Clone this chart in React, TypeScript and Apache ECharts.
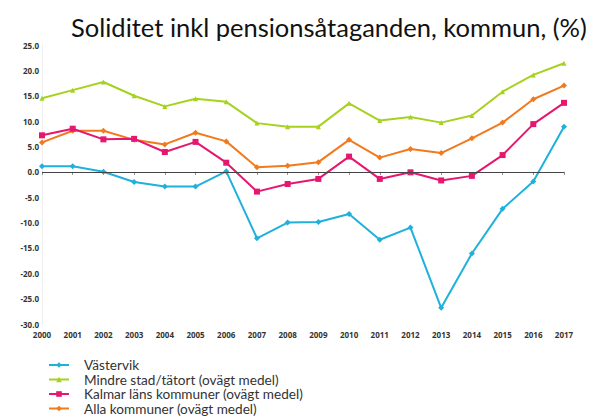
import React, { useEffect, useRef } from "react";
import * as echarts from "echarts";

const years = ["2000","2001","2002","2003","2004","2005","2006","2007","2008","2009","2010","2011","2012","2013","2014","2015","2016","2017"];
const vastervik = [1.1, 1.1, 0.0, -2.0, -2.9, -2.9, 0.1, -13.1, -10.0, -9.9, -8.3, -13.4, -11.0, -26.8, -16.1, -7.3, -1.9, 8.9];
const mindreStad = [14.5, 16.1, 17.7, 15.0, 12.9, 14.4, 13.8, 9.6, 8.9, 8.9, 13.5, 10.1, 10.8, 9.7, 11.1, 15.8, 19.1, 21.4];
const kalmar = [7.2, 8.5, 6.4, 6.5, 3.9, 5.9, 1.8, -3.9, -2.4, -1.4, 3.0, -1.4, -0.1, -1.7, -0.8, 3.3, 9.4, 13.6];
const alla = [5.8, 8.1, 8.1, 6.3, 5.4, 7.7, 6.0, 0.9, 1.2, 1.9, 6.3, 2.8, 4.5, 3.7, 6.6, 9.7, 14.3, 17.0];
const seriesNames = ["Västervik", "Mindre stad/tätort (ovägt medel)", "Kalmar läns kommuner (ovägt medel)", "Alla kommuner (ovägt medel)"];
const colors = ["#1fb1dc", "#a6d21f", "#e5176e", "#f27a1e"];
const symbols = ["diamond", "triangle", "rect", "diamond"];

export default function App() {
  const ref = useRef<HTMLDivElement>(null);
  useEffect(() => {
    document.body.style.margin = "0";
    if (!ref.current) return;
    const chart = echarts.init(ref.current, null, { renderer: "svg" });
    const data = [vastervik, mindreStad, kalmar, alla];
    chart.setOption({
      animation: false,
      backgroundColor: "#ffffff",
      title: {
        text: "Soliditet inkl pensionsåtaganden, kommun, (%)",
        left: 71,
        top: 14,
        padding: 0,
        textStyle: { fontFamily: "Lato", fontSize: 25.5, fontWeight: "normal", color: "#111" },
      },
      legend: {
        orient: "vertical",
        left: 48,
        top: 358,
        padding: 0,
        itemWidth: 20,
        itemHeight: 7,
        itemGap: 0.5,
        textStyle: { fontFamily: "Lato", fontSize: 13.6, lineHeight: 14, color: "#333", padding: [0, 0, 0, 10] },
        data: seriesNames,
      },
      grid: { left: 42, right: 29, top: 45, bottom: 95 },
      xAxis: {
        type: "category",
        data: years,
        boundaryGap: false,
        axisLine: { show: true, lineStyle: { color: "#e8e8e8" } },
        axisTick: { show: true, alignWithLabel: true, length: 3, lineStyle: { color: "#888" } },
        axisLabel: { fontFamily: "Open Sans", fontSize: 8, fontWeight: "bold", color: "#333", margin: 6 },
      },
      yAxis: {
        type: "value",
        min: -30,
        max: 25,
        interval: 5,
        axisLine: { show: true, lineStyle: { color: "#eeeeee" } },
        axisTick: { show: false },
        splitLine: { show: false },
        axisLabel: {
          fontFamily: "Open Sans",
          fontSize: 8,
          fontWeight: "bold",
          color: "#333",
          margin: 3,
          formatter: (v: number) => v.toFixed(1),
        },
      },
      series: data.map((d, i) => ({
        name: seriesNames[i],
        type: "line",
        data: d,
        symbol: symbols[i],
        symbolSize: i === 1 ? 5 : 6,
        showSymbol: true,
        itemStyle: { color: colors[i] },
        lineStyle: { color: colors[i], width: 2 },
        z: 4 - i,
        markLine:
          i === 0
            ? {
                silent: true,
                symbol: "none",
                label: { show: false },
                lineStyle: { color: "#444", width: 1.2, type: "solid" },
                data: [{ yAxis: 0 }],
              }
            : undefined,
      })),
    });
    return () => chart.dispose();
  }, []);
  return <div ref={ref} style={{ width: 593, height: 419 }} />;
}
